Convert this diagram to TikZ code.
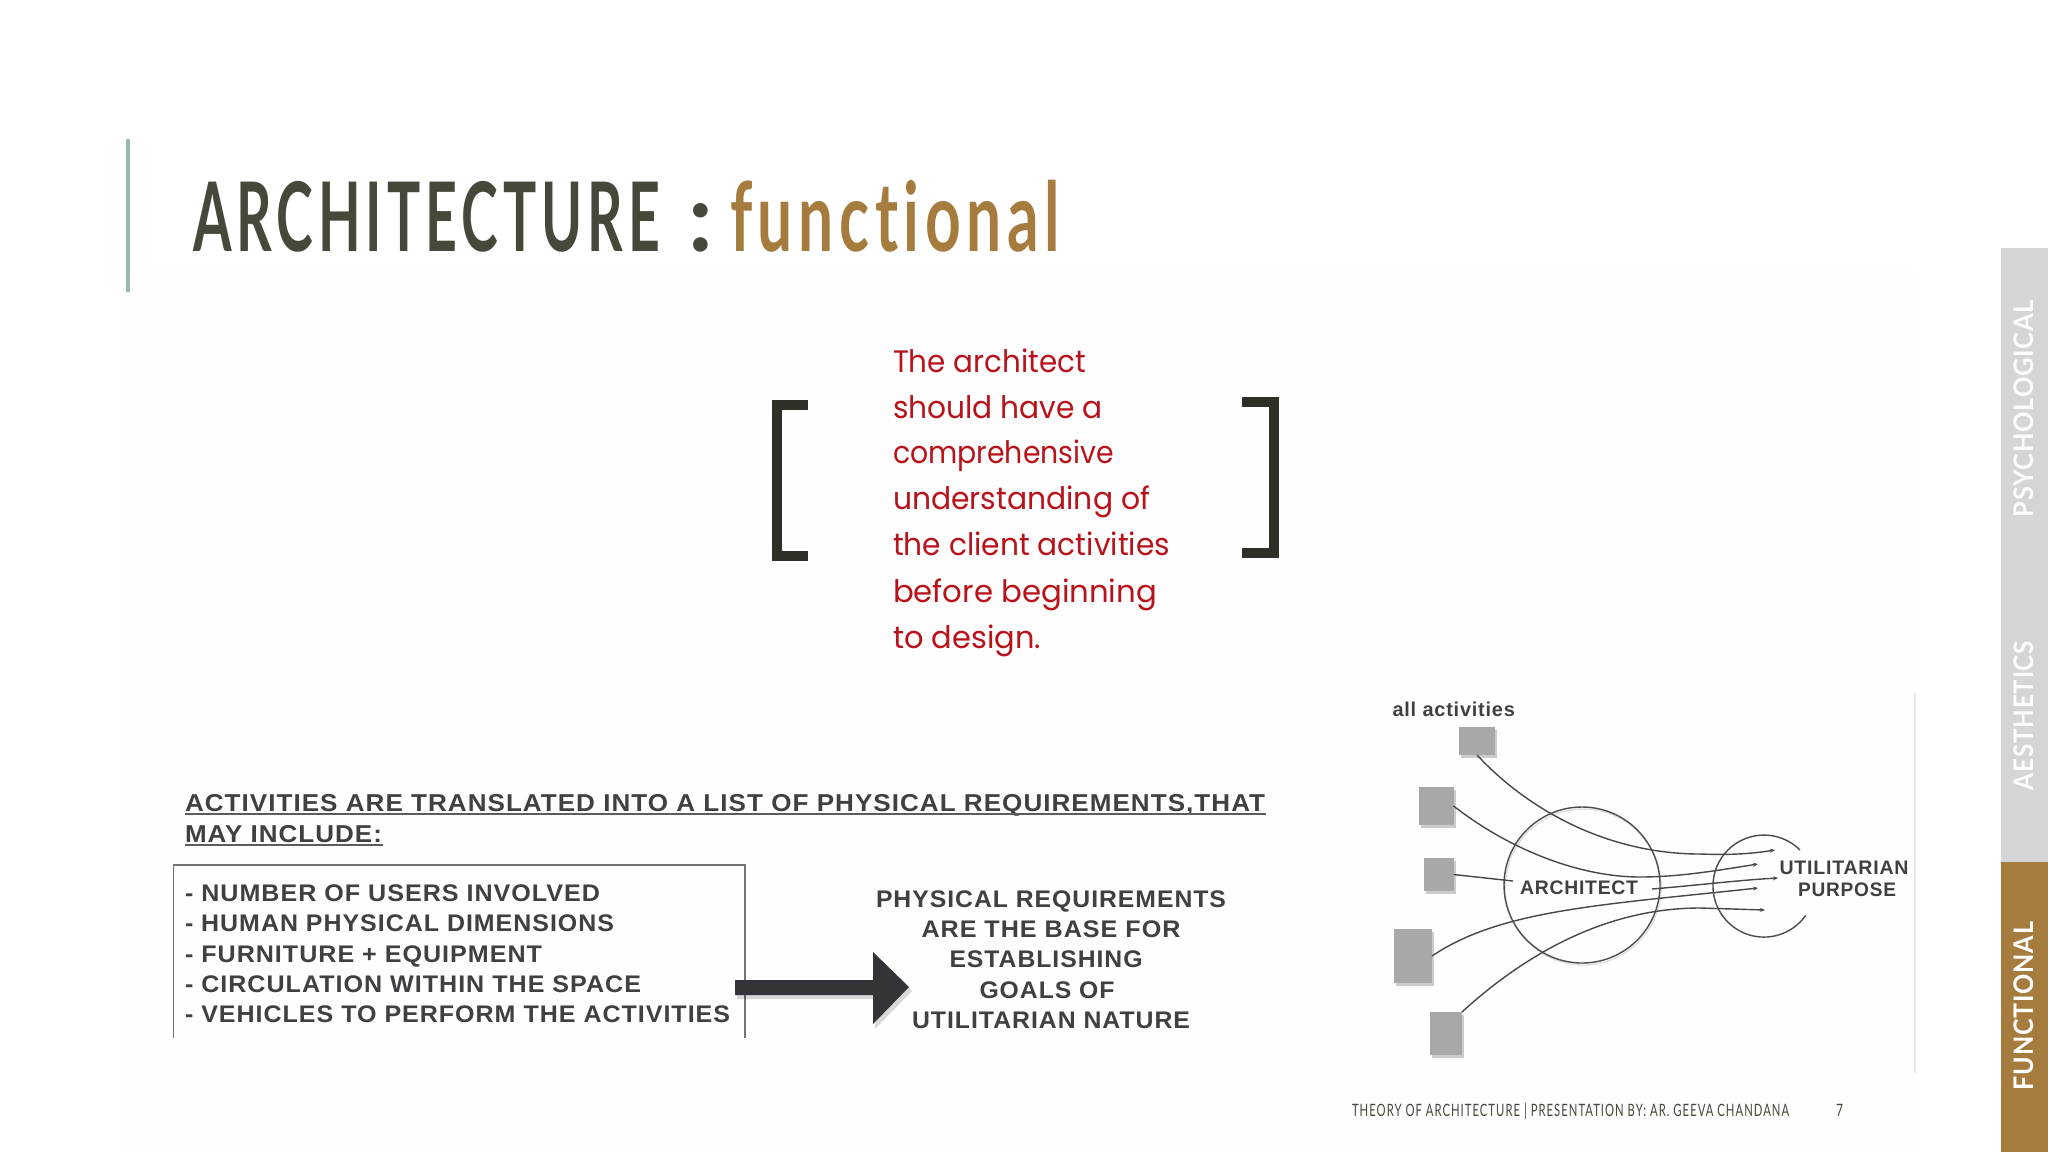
\documentclass[tikz,border=0pt]{standalone}
\usepackage{fontspec}
\usepackage{graphicx}
\usetikzlibrary{shadows,arrows.meta}
\setmainfont{Liberation Sans}
\newfontfamily\arl{Liberation Sans}[LetterSpace=4]
\newfontfamily\ttl{Lato}[LetterSpace=9,Ligatures={NoCommon,NoRequired}]
\newfontfamily\ttb{Lato}[LetterSpace=3,Ligatures={NoCommon,NoRequired}]
\newfontfamily\pop{Poppins}
\definecolor{gold}{HTML}{A67C3E}
\definecolor{olive}{HTML}{47473A}
\definecolor{brk}{HTML}{2F2F28}
\definecolor{sage}{HTML}{9CB8AE}
\definecolor{redt}{HTML}{B8121A}
\definecolor{inkd}{HTML}{3F3F44}
\definecolor{side}{HTML}{D5D5D8}
\definecolor{sq}{HTML}{A8A8AA}
\definecolor{faint}{HTML}{FEFEFE}
\definecolor{arrowd}{HTML}{333338}
\newcommand\fitw[2]{\resizebox{#1}{\height}{#2}}
\tikzset{
  lbl/.style={anchor=base west,inner sep=0pt,outer sep=0pt},
  lblc/.style={anchor=base,inner sep=0pt,outer sep=0pt},
  titlefont/.style={font=\ttl\bfseries\fontsize{48}{48}\selectfont},
  redline/.style={lbl,text=redt,font=\pop\fontsize{15.5}{15.5}\selectfont},
  listline/.style={lbl,text=inkd,font=\arl\bfseries\fontsize{12}{12}\selectfont},
  headline/.style={lbl,text=inkd,font=\arl\bfseries\fontsize{12.2}{12}\selectfont},
  goalline/.style={lblc,text=inkd,font=\arl\bfseries\fontsize{12}{12}\selectfont},
  diag/.style={lblc,text=inkd,font=\arl\bfseries\fontsize{9.8}{10}\selectfont},
  tab/.style={lbl,rotate=90,font=\ttb\bfseries\fontsize{13.5}{14}\selectfont},
  activity/.style={rectangle,fill=sq,inner sep=0pt,outer sep=0pt,
     drop shadow={shadow xshift=1pt,shadow yshift=-1.6pt,fill=black,opacity=.2}},
  wire/.style={draw=black!72,line width=.7pt},
  tipw/.style={wire,-{Stealth[length=2.5pt,width=2pt]}},
  under/.style={draw=inkd!85,line width=.8pt},
  bracket/.style={draw=brk,line width=5pt,miter limit=10}
}
\begin{document}
\begin{tikzpicture}[x=0.5pt,y=0.5pt,yscale=-1]
\useasboundingbox (0,0) rectangle (2048,1152);
\fill[white] (0,0) rectangle (2048,1152);
\fill[faint] (126,270) rectangle (1915,1152);

% left rule and title
\fill[sage] (126,139) rectangle (130,292);
\node[lbl,text=olive,titlefont] (t1) at (193,251) {\fitw{233.5pt}{ARCHITECTURE}};
\node[lbl,text=olive,titlefont] (t2) at (688,251) {:};
\node[lbl,text=gold,titlefont] (t3) at (730,251) {\fitw{165pt}{functional}};

% side tabs
\fill[side] (2001,248) rectangle (2048,862);
\fill[gold] (2001,862) rectangle (2048,1152);
\node[tab,text=white!92!side] (p1) at (2033,517) {\fitw{108.5pt}{PSYCHOLOGICAL}};
\node[tab,text=white!92!side] (p2) at (2033,790) {\fitw{74.5pt}{AESTHETICS}};
\node[tab,text=white] (p3) at (2033,1090) {\fitw{84pt}{FUNCTIONAL}};

% brackets
\draw[bracket] (808,405) -- (777,405) -- (777,556) -- (808,556);
\draw[bracket] (1242,402) -- (1274,402) -- (1274,553) -- (1242,553);

% red quote
\node[redline] (r1) at (893,372) {\fitw{96.5pt}{The architect}};
\node[redline] (r2) at (893,418) {\fitw{105pt}{should have a}};
\node[redline] (r3) at (893,463) {\fitw{110.5pt}{comprehensive}};
\node[redline] (r4) at (893,509) {\fitw{128.5pt}{understanding of}};
\node[redline] (r5) at (893,555) {\fitw{138.5pt}{the client activities}};
\node[redline] (r6) at (893,602) {\fitw{132pt}{before beginning}};
\node[redline] (r7) at (893,648) {\fitw{74pt}{to design.}};

% heading
\node[headline] (h1) at (185,811) {\fitw{540pt}{ACTIVITIES ARE TRANSLATED INTO A LIST OF PHYSICAL REQUIREMENTS,THAT}};
\node[headline] (h2) at (185,842) {\fitw{98.5pt}{MAY INCLUDE:}};
\draw[under] (185,814) -- (1266,814);
\draw[under] (185,845) -- (383,845);

% list box
\draw[draw=black!55,line width=.8pt] (173.5,1038) -- (173.5,865) -- (745,865) -- (745,1038);
\node[listline] (l1) at (185,901) {\fitw{207.5pt}{- NUMBER OF USERS INVOLVED}};
\node[listline] (l2) at (185,931) {\fitw{214.5pt}{- HUMAN PHYSICAL DIMENSIONS}};
\node[listline] (l3) at (185,962) {\fitw{178.5pt}{- FURNITURE + EQUIPMENT}};
\node[listline] (l4) at (185,992) {\fitw{228pt}{- CIRCULATION WITHIN THE SPACE}};
\node[listline] (l5) at (185,1022) {\fitw{272.5pt}{- VEHICLES TO PERFORM THE ACTIVITIES}};

% big arrow
\fill[black,opacity=.15] (737,984) -- (875,984) -- (875,956) -- (912,991) -- (875,1029) -- (875,999) -- (737,999) -- cycle;
\fill[arrowd] (735,980) -- (873,980) -- (873,952) -- (909,987) -- (873,1024) -- (873,995) -- (735,995) -- cycle;

% goals text
\node[goalline] (g1) at (1051,907) {\fitw{175pt}{PHYSICAL REQUIREMENTS}};
\node[goalline] (g2) at (1051,937) {\fitw{129.5pt}{ARE THE BASE FOR}};
\node[goalline] (g3) at (1046,967) {\fitw{96.5pt}{ESTABLISHING}};
\node[goalline] (g4) at (1047,998) {\fitw{67.5pt}{GOALS OF}};
\node[goalline] (g5) at (1051,1028) {\fitw{139pt}{UTILITARIAN NATURE}};

% right figure
\draw[draw=black!9,line width=.6pt] (1915,693) -- (1915,1073);
\node[lbl,text=inkd,font=\arl\bfseries\fontsize{10}{10}\selectfont] (all) at (1392.5,716) {\fitw{61.2pt}{all activities}};

\node[circle,draw=black!70,line width=.7pt,minimum size=78pt,inner sep=0pt,
      drop shadow={shadow xshift=.6pt,shadow yshift=-1pt,fill=none,draw=black,opacity=.12}] (arch) at (1582,885) {};
\draw[draw=black!70,line width=.7pt] (1800,850) arc[start angle=-45,end angle=-325,radius=25.5pt];
\coordinate (e1) at (1775,850);
\coordinate (e2) at (1758,864);
\coordinate (e3) at (1778,878);
\coordinate (e4) at (1758,888);
\coordinate (e5) at (1765,910);
\coordinate (archin) at (1513,881);
\coordinate (archout) at (1652,889);

\node[activity,minimum width=18pt,minimum height=14pt] (s1) at (1477,741) {};
\node[activity,minimum width=17.3pt,minimum height=19pt] (s2) at (1436.3,806) {};
\node[activity,minimum width=15pt,minimum height=16.5pt] (s3) at (1438.6,874.5) {};
\node[activity,minimum width=19pt,minimum height=27pt] (s4) at (1413,956) {};
\node[activity,minimum width=16.2pt,minimum height=21.5pt] (s5) at (1445.7,1033.5) {};

\draw[tipw] (s1.south) .. controls (1530,812) and (1610,854) .. (1700,854) .. controls (1730,855) and (1750,854) .. (e1);
\draw[tipw] (s2.east) .. controls (1510,850) and (1580,877) .. (1640,877) .. controls (1680,877) and (1720,870) .. (e2);
\draw[wire] (s3.east) -- (archin);
\draw[tipw] (archout) .. controls (1700,885) and (1740,880) .. (e3);
\draw[tipw] (s4.east) .. controls (1500,910) and (1600,905) .. (e4);
\draw[tipw] (s5.north east) .. controls (1530,950) and (1610,908) .. (1700,908) -- (e5);

\node[diag] (alab) at (1579,894) {\fitw{59pt}{ARCHITECT}};
\node[diag] (u1) at (1844,874) {\fitw{64.5pt}{UTILITARIAN}};
\node[diag] (u2) at (1847,896) {\fitw{49pt}{PURPOSE}};

% footer
\node[lbl,text=olive,font=\ttl\fontsize{8.5}{9}\selectfont] (f1) at (1352,1116) {\fitw{218.5pt}{THEORY OF ARCHITECTURE  |  PRESENTATION BY: AR. GEEVA CHANDANA}};
\node[lbl,text=olive,font=\ttl\fontsize{8.5}{9}\selectfont] (f2) at (1836,1116) {\fitw{3.5pt}{7}};
\end{tikzpicture}
\end{document}
